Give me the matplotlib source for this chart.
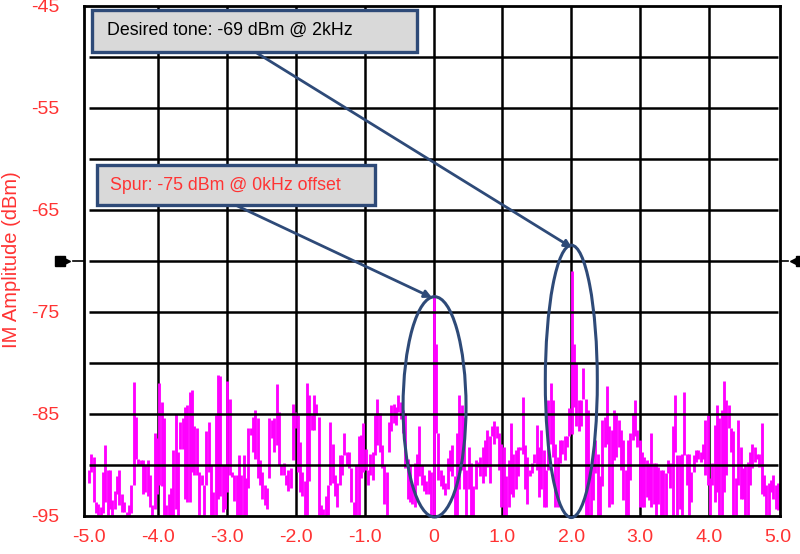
import numpy as np
import matplotlib
matplotlib.use("Agg")
import matplotlib.pyplot as plt
from matplotlib.patches import Rectangle, Ellipse
import matplotlib.transforms as mtransforms

plt.rcParams['font.family'] = ['Liberation Sans', 'DejaVu Sans']

RED = '#ff3333'
NAVY = '#2e4a78'
MAGENTA = '#ff00ff'

# ---- data: per-column max / min of the IM spectrum (dBm), -5 kHz .. +5 kHz ----
left_top = [-90.5,-88.9,-89.2,-93.6,-93.8,-94.1,-90.7,-88.0,-90.5,-90.5,
            -93.4,-92.5,-91.1,-90.5,-92.8,-93.6,-94.6,-93.9,-92.0,-81.9,
            -85.3,-89.4,-89.5,-89.5,-90.0,-89.5,-91.0,-93.9,-86.9,-87.4,
            -82.0,-83.8,-85.4,-93.9,-92.8,-92.3,-88.5,-85.0,-88.7,-85.8,
            -85.4,-84.3,-84.1,-82.8,
            -82.6,-86.2,-86.4,-90.7,-91.0,-92.0,-86.7,-85.8,-90.0,-92.6,
            -85.1,-81.2,-81.3,-90.0,-90.0,-81.8,-83.5,-90.7,-91.0,-91.0,
            -89.0,-91.0,-89.0,-91.3,-86.4,-86.4,-85.3,-84.6,-85.4,-89.5,
            -90.7,-92.0,-92.3,-85.4,-85.6,-85.4,-82.1,-84.8,-90.0,-89.8,
            -91.0,-90.5,-90.3,-84.0,-84.8,-85.1,-87.7,-90.7,-91.6,-82.0,
            -83.1,-85.1,
            -83.1,-84.0,-85.3,-93.9,-94.3,-93.0,-92.0,-85.8,-87.9,-91.0,
            -91.8,-89.0,-89.0,-86.9,-88.7,-88.7,-90.3,-93.6,-90.0,-87.2,
            -87.1,-85.9,-88.4,-90.5,-88.9,-88.7,-85.1,-83.5,-84.9,-88.0,
            -90.0,-90.7,-85.8,-84.1,-84.0,-84.3,-83.1,-83.8,-84.6,-84.9,
            -89.4,-90.0,-92.0,-89.8,-88.9,-86.2,-90.0,-91.0,-91.6,-90.5,
            -90.7]
left_bot = [-91.8,-90.7,-93.6,-94.7,-94.9,-94.9,-94.7,-93.6,-94.9,-94.3,
            -94.9,-94.3,-92.8,-93.9,-94.6,-94.6,-95.0,-95.0,-94.7,-92.0,
            -89.4,-90.0,-90.0,-92.8,-92.6,-93.0,-94.1,-95.0,-94.3,-92.8,
            -92.0,-92.1,-94.9,-95.0,-95.0,-95.0,-95.0,-94.3,-95.0,-88.4,
            -88.4,-93.3,-93.6,-93.6,
            -90.7,-91.0,-91.0,-94.9,-92.0,-94.9,-92.0,-90.7,-94.9,-94.9,
            -94.9,-93.3,-93.0,-94.6,-94.3,-92.6,-91.0,-91.2,-93.5,-94.9,
            -94.9,-94.9,-94.9,-94.9,-92.3,-87.1,-88.7,-89.4,-91.3,-92.0,
            -93.3,-93.9,-94.3,-91.3,-87.4,-88.7,-88.0,-90.0,-91.0,-91.0,
            -92.0,-92.5,-92.3,-89.5,-86.4,-90.7,-92.6,-93.0,-94.9,-94.9,
            -91.6,-86.6,
            -86.6,-85.1,-94.9,-94.9,-94.9,-95.0,-94.9,-92.0,-91.8,-93.0,
            -94.1,-92.0,-91.0,-89.0,-90.0,-90.3,-93.6,-94.9,-94.9,-94.9,
            -91.3,-90.7,-90.5,-92.0,-91.0,-91.5,-89.0,-88.0,-88.7,-90.3,
            -93.8,-94.9,-88.7,-86.7,-85.9,-86.1,-84.8,-85.5,-86.9,-90.3,
            -93.3,-93.6,-93.8,-94.1,-92.0,-91.1,-92.0,-92.5,-92.8,-92.8,
            -94.9]
# from the 0 kHz spur up to (not incl.) the 2 kHz tone
mid_top = [-73.3,-78.1,-86.9,-90.5,-91.0,-91.8,-89.3,-88.5,-88.0,-91.1,
           -86.9,-83.1,-84.1,-85.3,-90.5,-88.2,-89.8,-92.1,-89.5,-89.7,
           -89.2,-88.2,-87.5,-86.6,-87.2,-86.2,-85.7,-86.2,-86.9,-87.9,
           -88.2,-91.1,-89.5,-85.9,-88.9,-88.5,-88.2,-88.2,-83.3,-88.0,
           -89.2,-90.5,-89.8,-88.9,-86.1,-88.2,-86.6,-88.5,-90.5,-83.6,
           -82.0,-83.6,-87.9,-89.2,-87.5,-87.5,-87.2,-87.2,-84.4]
mid_bot = [-95.0,-86.9,-91.5,-92.1,-92.4,-92.9,-92.4,-90.6,-91.1,-95.0,
           -95.0,-92.4,-90.5,-92.4,-95.0,-92.4,-95.0,-95.0,-92.4,-90.2,
           -91.1,-91.8,-91.1,-90.2,-91.8,-87.2,-87.9,-87.4,-90.5,-94.1,
           -95.0,-95.0,-94.1,-92.8,-93.1,-92.4,-91.1,-88.5,-88.9,-92.4,
           -93.8,-91.1,-90.8,-89.8,-90.5,-93.1,-92.4,-94.1,-94.1,-90.5,
           -87.9,-89.2,-94.1,-94.1,-89.8,-88.9,-89.5,-88.2,-87.2]
# from the 2 kHz tone to +5 kHz
right_top = [-71.0,-78.1,-80.0,-83.6,-83.6,-80.5,-83.5,-84.6,-90.8,-88.9,
             -87.5,-88.9,-91.1,-85.6,-85.3,-82.3,-86.2,-86.6,-84.6,-84.9,
             -85.6,-86.6,-87.5,-90.5,-87.5,-86.9,-84.9,-83.6,-86.6,-87.5,
             -88.7,-89.2,-89.5,-89.8,-86.9,-89.8,-89.8,-90.2,-90.5,-90.5,
             -90.8,-89.5,-89.8,-86.2,-83.1,-89.0,-89.0,-88.9,-82.8,-88.9,
             -88.9,-90.7,-89.0,-88.5,-88.5,-88.7,-87.9,-85.6,-85.1,-91.3,
             -89.8,-86.1,-84.1,-85.4,-84.6,-81.8,-83.6,-84.1,-86.4,-86.7,
             -91.3,-85.6,-88.2,-90.3,-90.0,-89.7,-88.7,-87.9,-88.2,-88.9,
             -88.9,-85.9,-91.0,-92.0,-91.8,-91.5,-91.0,-92.0,-91.8]
right_bot = [-87.0,-84.3,-86.2,-86.7,-86.2,-83.5,-95.0,-95.0,-95.0,-93.4,
             -90.8,-95.0,-95.0,-92.1,-88.2,-87.9,-94.1,-93.8,-89.5,-89.2,
             -88.2,-90.5,-93.4,-95.0,-95.0,-91.5,-87.5,-87.2,-88.2,-94.1,
             -94.1,-94.1,-93.1,-93.4,-94.1,-93.8,-95.0,-93.8,-95.0,-95.0,
             -95.0,-90.8,-92.3,-94.9,-88.7,-94.9,-94.3,-94.9,-89.0,-92.0,
             -94.9,-93.6,-90.7,-89.7,-89.4,-89.7,-89.4,-91.0,-92.0,-94.9,
             -92.0,-93.6,-92.6,-94.9,-94.9,-92.6,-91.0,-86.4,-88.7,-94.9,
             -94.9,-92.0,-93.3,-93.3,-94.9,-94.9,-92.0,-90.3,-89.7,-89.4,
             -90.2,-92.8,-93.0,-94.9,-94.9,-92.6,-93.3,-94.3,-94.4]

x_ticks = [-5, -4, -3, -2, -1, 0, 1, 2, 3, 4, 5]
x_tick_labels = ['-5.0', '-4.0', '-3.0', '-2.0', '-1.0', '0', '1.0', '2.0', '3.0', '4.0', '5.0']
y_ticks = [-95, -85, -75, -65, -55, -45]
y_tick_labels = ['-95', '-85', '-75', '-65', '-55', '-45']
h_grid = [-90, -85, -80, -75, -70, -65, -60, -55, -50]
v_grid = [-4, -3, -2, -1, 0, 1, 2, 3, 4]
ref_level = -70

tone_text = 'Desired tone: -69 dBm @ 2kHz'
spur_text = 'Spur: -75 dBm @ 0kHz offset'

tops = np.array(left_top + mid_top + right_top)
bots = np.array(left_bot + mid_bot + right_bot)
freq = np.linspace(-5, 5, len(tops))

# ---- figure ----
fig = plt.figure(figsize=(8.0, 5.54), dpi=100)
ax = fig.add_axes([84/800, 1-516/554, 696/800, 510/554])
ax.set_xlim(-5.073, 5.029)
ax.set_ylim(-95, -45)

ax.vlines(v_grid, -95, -45, colors='black', lw=1.8, zorder=1)
ax.vlines(freq, bots, tops, colors=MAGENTA, lw=2.05, zorder=2,
          capstyle='butt')
ax.hlines(h_grid, -5, 5, colors='black', lw=1.8, zorder=3)

for s in ax.spines.values():
    s.set_linewidth(2.0)
    s.set_color('black')
    s.set_zorder(4)

ax.set_xticks(x_ticks)
ax.set_xticklabels(x_tick_labels)
ax.set_yticks(y_ticks)
ax.set_yticklabels(y_tick_labels)
ax.tick_params(axis='both', length=0, colors=RED, labelsize=14)
ax.tick_params(axis='y', pad=18)
ax.tick_params(axis='x', pad=9)

fig.text(12/800, 1-259.5/554, 'IM Amplitude (dBm)', rotation=90, color=RED,
         fontsize=14.5, ha='center', va='center')

# reference level markers
bt = mtransforms.blended_transform_factory(ax.transAxes, ax.transData)
ax.plot([-0.016, -0.0], [ref_level, ref_level], color='black', lw=1.2,
        transform=bt, clip_on=False, zorder=5)
ax.plot([-0.035], [ref_level], marker='s', ms=7, color='black',
        transform=bt, clip_on=False, zorder=5)
ax.plot([-0.027], [ref_level], marker='>', ms=7, color='black',
        transform=bt, clip_on=False, zorder=5)
ax.plot([1.0, 1.012], [ref_level, ref_level], color='black', lw=1.2,
        transform=bt, clip_on=False, zorder=5)
ax.plot([1.022], [ref_level], marker='<', ms=7, color='black',
        transform=bt, clip_on=False, zorder=5)
ax.plot([1.03], [ref_level], marker='s', ms=7, color='black',
        transform=bt, clip_on=False, zorder=5)

# ellipses
ax.add_patch(Ellipse((0.015, -84.3), 0.914, 21.6, fill=False, ec=NAVY,
                     lw=2.2, zorder=6, clip_on=False))
ax.add_patch(Ellipse((2.0, -81.8), 0.755, 26.7, fill=False, ec=NAVY,
                     lw=2.2, zorder=6, clip_on=False))

# annotation boxes
ax.add_patch(Rectangle((-4.956, -49.51), 4.717, 4.12, fc='#d9d9d9', ec=NAVY,
                       lw=2.4, zorder=7, clip_on=False))
ax.text(-4.74, -47.35, tone_text, color='black', fontsize=12.8,
        ha='left', va='center', zorder=8)
ax.add_patch(Rectangle((-4.884, -64.51), 4.035, 3.92, fc='#d9d9d9', ec=NAVY,
                       lw=2.4, zorder=7, clip_on=False))
ax.text(-4.70, -62.55, spur_text, color=RED, fontsize=12.8,
        ha='left', va='center', zorder=8)

# arrows
arrow_kw = dict(arrowstyle='-|>', color=NAVY, lw=2.0, mutation_scale=11,
                shrinkA=0, shrinkB=0)
ax.annotate('', xy=(2.01, -68.7), xytext=(-2.59, -49.5), arrowprops=arrow_kw,
            zorder=6)
ax.annotate('', xy=(-0.02, -73.6), xytext=(-2.88, -64.5), arrowprops=arrow_kw,
            zorder=6)

fig.savefig('out.png', dpi=100)
